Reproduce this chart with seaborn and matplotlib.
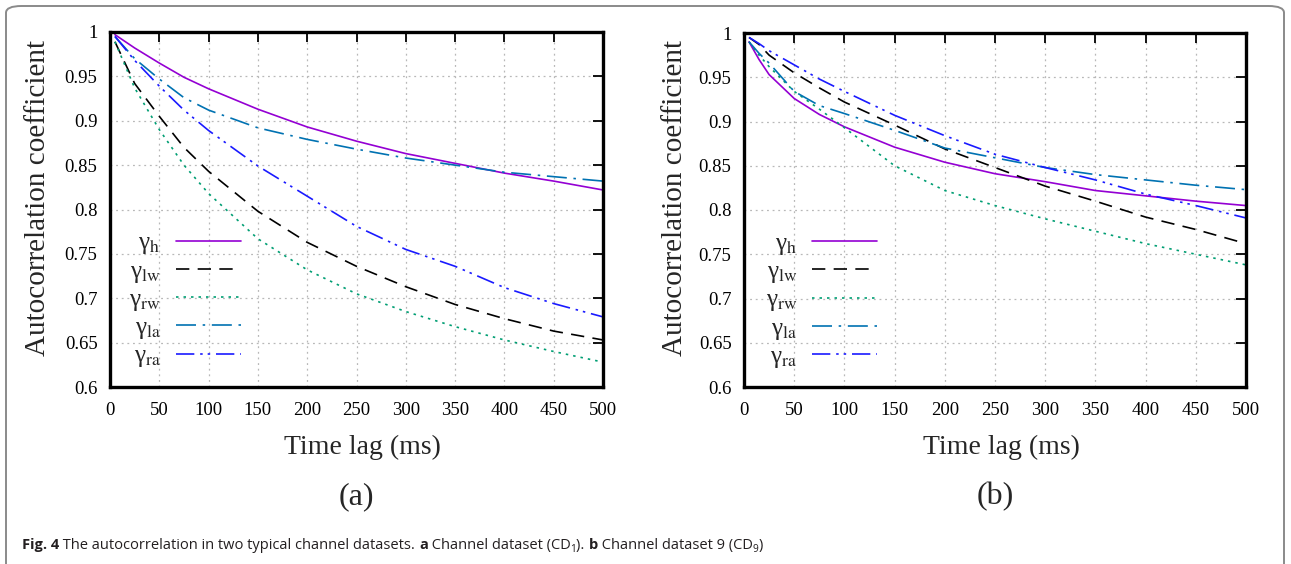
import numpy as np
import pandas as pd
import seaborn as sns
import matplotlib
matplotlib.use("Agg")
import matplotlib.pyplot as plt
from matplotlib.patches import FancyBboxPatch
from matplotlib.font_manager import FontProperties

# ---------------- data ----------------
lags_a = [5, 25, 50, 75, 100, 150, 200, 250, 300, 350, 400, 450, 500]
lags_b = [5, 15, 25, 50, 75, 100, 150, 200, 250, 300, 350, 400, 450, 500]

# panel (a): CD1
a_h  = [0.997, 0.982, 0.965, 0.949, 0.936, 0.913, 0.893, 0.877, 0.863, 0.852, 0.841, 0.832, 0.822]
a_lw = [0.989, 0.942, 0.905, 0.870, 0.843, 0.798, 0.763, 0.736, 0.713, 0.693, 0.677, 0.663, 0.653]
a_rw = [0.989, 0.937, 0.890, 0.850, 0.818, 0.767, 0.732, 0.705, 0.685, 0.668, 0.653, 0.640, 0.628]
a_la = [0.995, 0.970, 0.947, 0.926, 0.912, 0.892, 0.879, 0.868, 0.858, 0.850, 0.842, 0.837, 0.832]
a_ra = [0.995, 0.968, 0.939, 0.912, 0.889, 0.849, 0.815, 0.781, 0.755, 0.736, 0.712, 0.694, 0.679]

# panel (b): CD9
b_h  = [0.990, 0.970, 0.953, 0.926, 0.908, 0.894, 0.871, 0.854, 0.841, 0.832, 0.822, 0.816, 0.810, 0.805]
b_lw = [0.995, 0.987, 0.975, 0.955, 0.938, 0.922, 0.896, 0.869, 0.848, 0.827, 0.810, 0.792, 0.778, 0.762]
b_rw = [0.990, 0.975, 0.962, 0.934, 0.914, 0.893, 0.850, 0.822, 0.805, 0.790, 0.776, 0.762, 0.750, 0.738]
b_la = [0.990, 0.977, 0.966, 0.934, 0.918, 0.909, 0.890, 0.870, 0.859, 0.848, 0.840, 0.834, 0.828, 0.823]
b_ra = [0.995, 0.988, 0.980, 0.964, 0.948, 0.934, 0.907, 0.884, 0.863, 0.848, 0.834, 0.818, 0.805, 0.791]

series_keys = ["h", "lw", "rw", "la", "ra"]
series_labels = [r"γ$_{\mathrm{h}}$", r"γ$_{\mathrm{lw}}$", r"γ$_{\mathrm{rw}}$",
                 r"γ$_{\mathrm{la}}$", r"γ$_{\mathrm{ra}}$"]
panel_a = [a_h, a_lw, a_rw, a_la, a_ra]
panel_b = [b_h, b_lw, b_rw, b_la, b_ra]

x_ticks = [0, 50, 100, 150, 200, 250, 300, 350, 400, 450, 500]
y_ticks = [0.6, 0.65, 0.7, 0.75, 0.8, 0.85, 0.9, 0.95, 1.0]
y_ticklabels = ["0.6", "0.65", "0.7", "0.75", "0.8", "0.85", "0.9", "0.95", "1"]

x_label = "Time lag (ms)"
y_label = "Autocorrelation coefficient"
panel_titles = ["(a)", "(b)"]

# caption pieces: (text, style)
caption_parts = [("Fig. 4", "bold"), (" The autocorrelation in two typical channel datasets. ", "normal"),
                 ("a", "bold"), (" Channel dataset (CD", "normal"), ("1", "sub"), ("). ", "normal"),
                 ("b", "bold"), (" Channel dataset 9 (CD", "normal"), ("9", "sub"), (")", "normal")]

# ---------------- styles ----------------
colors = {"h": "#9400d3", "lw": "#000000", "rw": "#009e73", "la": "#0072b2", "ra": "#1a1aff"}
dashes = {"h": "-", "lw": (0, (8, 5)), "rw": (0, (1.5, 3)), "la": (0, (12, 4, 1.5, 4)),
          "ra": (0, (11, 3.5, 1.5, 3, 1.5, 3.5))}

sns.set_theme(style="white")
plt.rcParams["font.family"] = ["Liberation Serif", "DejaVu Serif"]
plt.rcParams["mathtext.fontset"] = "stix"

W, H = 1291, 564
fig = plt.figure(figsize=(W / 100, H / 100), dpi=100)

def fx(px):
    return px / W

def fy(py):
    return (H - py) / H

ax_boxes = [(110, 603, 32, 387), (744, 1246, 33, 387)]
ylabel_gap = [59, 56]
legend_fp = FontProperties(family="Liberation Serif", size=18, math_fontfamily="stix")

for pi, (lags, data, box) in enumerate(zip([lags_a, lags_b], [panel_a, panel_b], ax_boxes)):
    l, r, t, b = box
    ax = fig.add_axes([fx(l), fy(b), fx(r) - fx(l), fy(t) - fy(b)])
    for key, lab, vals in zip(series_keys, series_labels, data):
        df = pd.DataFrame({"lag": lags, "rho": vals})
        sns.lineplot(data=df, x="lag", y="rho", ax=ax, color=colors[key],
                     linestyle=dashes[key], linewidth=1.2, label=lab,
                     estimator=None, sort=False)
    ax.set_xlim(0, 500)
    ax.set_ylim(0.6, 1.0)
    ax.set_xticks(x_ticks)
    ax.set_yticks(y_ticks)
    ax.set_yticklabels(y_ticklabels)
    ax.tick_params(direction="in", length=7, width=1.3, top=True, right=True,
                   labelsize=13.5, pad=9, colors="black")
    ax.tick_params(axis="x", pad=11)
    ax.grid(True, linestyle=(0, (1.5, 3)), color="#b8b8b8", linewidth=0.9)
    for s in ax.spines.values():
        s.set_linewidth(2.4)
        s.set_color("black")
    ax.set_xlabel(x_label, fontsize=20)
    ax.set_ylabel(y_label, fontsize=21)
    w_px = r - l
    h_px = b - t
    ax.yaxis.set_label_coords(-ylabel_gap[pi] / w_px, (b - 198) / h_px)
    ax.xaxis.set_label_coords(0.512, (b - 435) / h_px)
    leg = ax.legend(loc="upper right", bbox_to_anchor=(0.285, 0.465), frameon=False,
                    markerfirst=False, handlelength=2.6, handletextpad=0.6,
                    labelspacing=0.15, prop=legend_fp, borderaxespad=0)
    for txt in leg.get_texts():
        txt.set_ha("right")
    cx = (l + r) / 2
    fig.text(fx(cx), fy(497), panel_titles[pi], ha="center", va="center", fontsize=23)

# outer rounded frame
frame = FancyBboxPatch((fx(6), fy(600)), fx(1284) - fx(6), fy(6) - fy(600),
                       boxstyle="round,pad=0,rounding_size=0.012",
                       transform=fig.transFigure, facecolor="none",
                       edgecolor="#8a8a8a", linewidth=1.4, zorder=10)
fig.patches.append(frame)

# caption, drawn piece by piece
fig.canvas.draw()
renderer = fig.canvas.get_renderer()
cap_size = 10.5
x_cur = 22.0
base_y = 549.0
for txt, style in caption_parts:
    kw = dict(family="Open Sans", color="#231f20", ha="left", va="baseline")
    if style == "bold":
        t = fig.text(fx(x_cur), fy(base_y), txt, fontsize=cap_size, fontweight="bold", **kw)
    elif style == "sub":
        t = fig.text(fx(x_cur), fy(base_y + 3), txt, fontsize=cap_size * 0.7, **kw)
    else:
        t = fig.text(fx(x_cur), fy(base_y), txt, fontsize=cap_size, **kw)
    probe = fig.text(0, 0, "|" + txt + "|", fontsize=t.get_fontsize(),
                     fontweight=t.get_fontweight(), family="Open Sans")
    bar = fig.text(0, 0, "||", fontsize=t.get_fontsize(),
                   fontweight=t.get_fontweight(), family="Open Sans")
    wp = probe.get_window_extent(renderer).width - bar.get_window_extent(renderer).width
    probe.remove()
    bar.remove()
    x_cur += wp

fig.savefig("out.png", dpi=100)
